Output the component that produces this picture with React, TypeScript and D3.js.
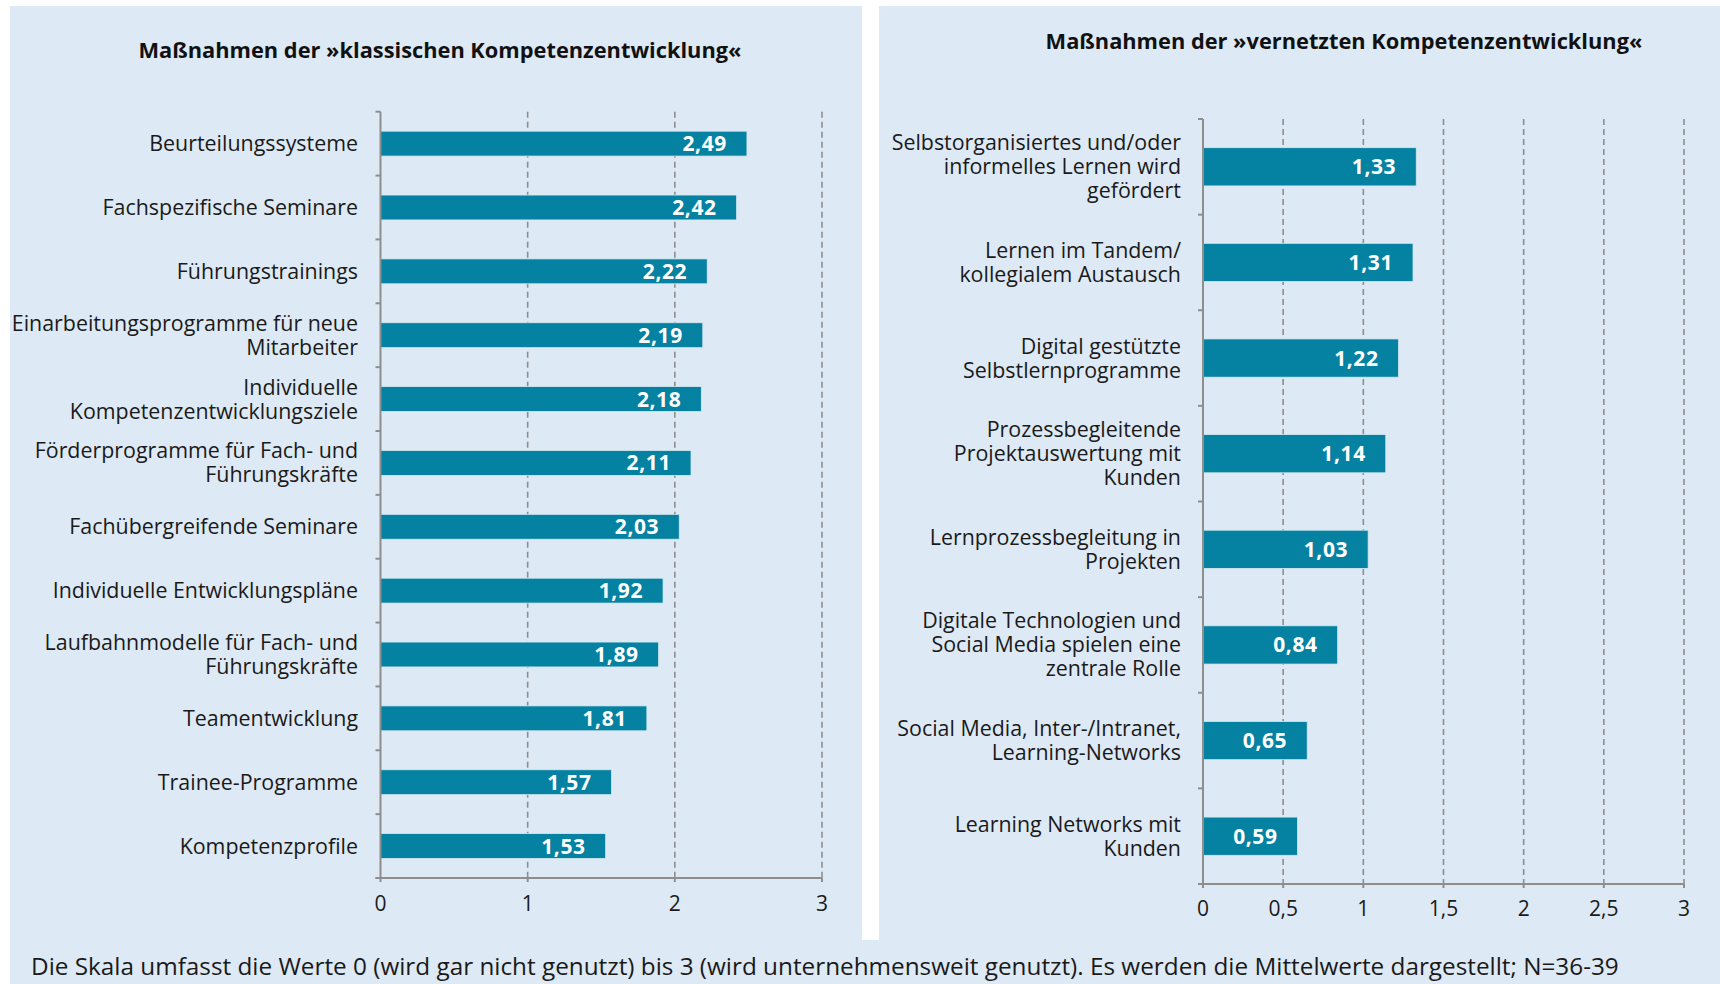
import * as d3 from "d3";

// left panel: "klassische" Kompetenzentwicklung
const classicLabels = [
  ["Beurteilungssysteme"],
  ["Fachspezifische Seminare"],
  ["Führungstrainings"],
  ["Einarbeitungsprogramme für neue", "Mitarbeiter"],
  ["Individuelle", "Kompetenzentwicklungsziele"],
  ["Förderprogramme für Fach- und", "Führungskräfte"],
  ["Fachübergreifende Seminare"],
  ["Individuelle Entwicklungspläne"],
  ["Laufbahnmodelle für Fach- und", "Führungskräfte"],
  ["Teamentwicklung"],
  ["Trainee-Programme"],
  ["Kompetenzprofile"],
];
const classicValues = [2.49, 2.42, 2.22, 2.19, 2.18, 2.11, 2.03, 1.92, 1.89, 1.81, 1.57, 1.53];
const classicTicks = [0, 1, 2, 3];

// right panel: "vernetzte" Kompetenzentwicklung
const networkLabels = [
  ["Selbstorganisiertes und/oder", "informelles Lernen wird", "gefördert"],
  ["Lernen im Tandem/", "kollegialem Austausch"],
  ["Digital gestützte", "Selbstlernprogramme"],
  ["Prozessbegleitende", "Projektauswertung mit", "Kunden"],
  ["Lernprozessbegleitung in", "Projekten"],
  ["Digitale Technologien und", "Social Media spielen eine", "zentrale Rolle"],
  ["Social Media, Inter-/Intranet,", "Learning-Networks"],
  ["Learning Networks mit", "Kunden"],
];
const networkValues = [1.33, 1.31, 1.22, 1.14, 1.03, 0.84, 0.65, 0.59];
const networkTicks = [0, 0.5, 1, 1.5, 2, 2.5, 3];

const titleLeft = "Maßnahmen der »klassischen Kompetenzentwicklung«";
const titleRight = "Maßnahmen der »vernetzten Kompetenzentwicklung«";
const footnote =
  "Die Skala umfasst die Werte 0 (wird gar nicht genutzt) bis 3 (wird unternehmensweit genutzt). Es werden die Mittelwerte dargestellt; N=36-39";

const W = 1720;
const H = 984;
const BG = "#dde9f5";
const BAR = "#0581a1";
const AXIS = "#8e8e8e";
const TEXT = "#1a1a1a";
const FONT = "'Open Sans', 'Noto Sans', sans-serif";

const fmt = (v: number) => d3.format(".2f")(v).replace(".", ",");
const tickFmt = (v: number) => String(v).replace(".", ",");

type PanelProps = {
  labels: string[][];
  values: number[];
  ticks: number[];
  x0: number;
  x1: number;
  y0: number;
  y1: number;
  padding: number;
  labelRight: number;
  tickBaseline: number;
};

function Panel({ labels, values, ticks, x0, x1, y0, y1, padding, labelRight, tickBaseline }: PanelProps) {
  const keys = labels.map((l) => l.join(" "));
  const x = d3.scaleLinear().domain([0, 3]).range([x0, x1]);
  const y = d3.scaleBand<string>().domain(keys).range([y0, y1]).paddingInner(padding).paddingOuter(padding / 2);
  const step = y.step();
  const bounds = d3.range(keys.length + 1).map((i) => y0 + i * step);
  const lineH = 24;

  return (
    <g>
      {/* dashed grid */}
      {ticks.filter((t) => t > 0).map((t) => (
        <line key={"g" + t} x1={x(t)} x2={x(t)} y1={y0} y2={y1}
          stroke={AXIS} strokeWidth={1.6} strokeDasharray="6,4" />
      ))}
      {/* bars */}
      {keys.map((k, i) => (
        <g key={k}>
          <rect x={x(0)} y={y(k)} width={x(values[i]) - x(0)} height={y.bandwidth()}
            fill={BAR} stroke="#d6eaf2" strokeWidth={0.8} />
          <text x={x(values[i]) - 20} y={(y(k) as number) + y.bandwidth() / 2 + 7.5}
            textAnchor="end" fill="#fff" fontWeight={700} fontSize={21} letterSpacing={0.6} fontFamily={FONT}>
            {fmt(values[i])}
          </text>
        </g>
      ))}
      {/* category labels */}
      {labels.map((lines, i) => {
        const c = (y(keys[i]) as number) + y.bandwidth() / 2;
        const first = c - ((lines.length - 1) * lineH) / 2 + 7.5;
        return (
          <text key={"l" + i} textAnchor="end" fontSize={21.4} fill={TEXT} fontFamily={FONT}>
            {lines.map((ln, j) => (
              <tspan key={j} x={labelRight} y={first + j * lineH}>{ln}</tspan>
            ))}
          </text>
        );
      })}
      {/* y axis with boundary ticks */}
      <line x1={x(0)} x2={x(0)} y1={y0} y2={y1} stroke={AXIS} strokeWidth={2} />
      {bounds.map((b, i) => (
        <line key={"yt" + i} x1={x(0) - 5} x2={x(0)} y1={b} y2={b} stroke={AXIS} strokeWidth={2} />
      ))}
      {/* x axis */}
      <line x1={x(0) - 5} x2={x(3)} y1={y1} y2={y1} stroke={AXIS} strokeWidth={2} />
      {ticks.map((t) => (
        <g key={"xt" + t}>
          <line x1={x(t)} x2={x(t)} y1={y1} y2={y1 + 4} stroke={AXIS} strokeWidth={2} />
          <text x={x(t)} y={tickBaseline} textAnchor="middle" fontSize={21} fill={TEXT} fontFamily={FONT}>
            {tickFmt(t)}
          </text>
        </g>
      ))}
    </g>
  );
}

export default function App() {
  return (
    <div style={{ position: "absolute", left: 0, top: 0 }}>
      <svg width={W} height={H} style={{ display: "block" }}>
        <rect x={0} y={0} width={W} height={H} fill="#fff" />
        <rect x={10} y={6} width={W - 10} height={H - 6} fill={BG} />
        <rect x={862} y={6} width={17} height={934} fill="#fff" />

        <text x={440} y={58} textAnchor="middle" fontSize={21.8} fontWeight={700} fill="#111" fontFamily={FONT}>
          {titleLeft}
        </text>
        <text x={1344} y={49} textAnchor="middle" fontSize={21.8} fontWeight={700} fill="#111" fontFamily={FONT}>
          {titleRight}
        </text>

        <Panel labels={classicLabels} values={classicValues} ticks={classicTicks}
          x0={380.5} x1={822} y0={111.7} y1={878} padding={0.61} labelRight={358} tickBaseline={911} />
        <Panel labels={networkLabels} values={networkValues} ticks={networkTicks}
          x0={1203} x1={1684} y0={119} y1={884} padding={0.6} labelRight={1181} tickBaseline={916} />

        <text x={31} y={975} fontSize={24.3} fill={TEXT} fontFamily={FONT}>{footnote}</text>
      </svg>
    </div>
  );
}
